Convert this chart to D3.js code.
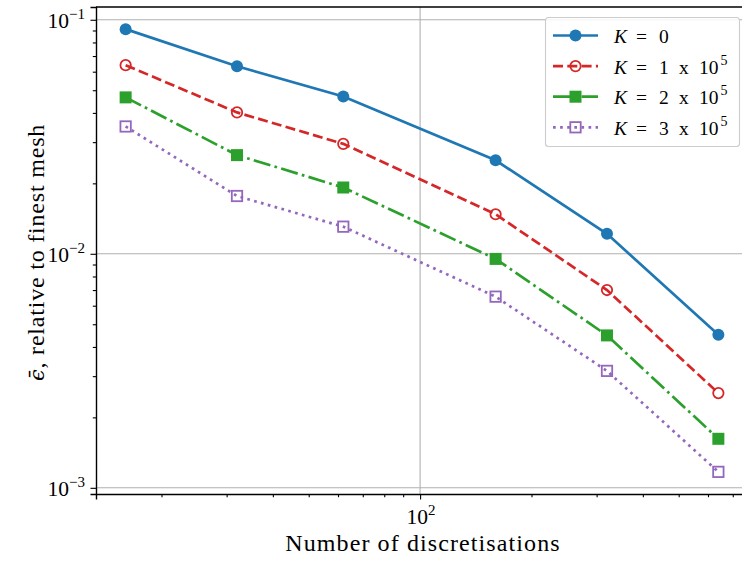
<!DOCTYPE html>
<html>
<head>
<meta charset="utf-8">
<script src="https://cdn.jsdelivr.net/npm/d3@7"></script>
<style>
  html, body { margin: 0; padding: 0; background: #fff; }
  svg { display: block; }
  text { font-family: "Liberation Serif", "DejaVu Serif", serif; fill: #000; }
</style>
</head>
<body>
<svg id="chart" width="742" height="563"></svg>
<script>
// Mesh sizes (number of discretisations)
const discretisations = [16, 32, 62, 160, 320, 640];

// Mean error relative to the finest mesh, one series per stiffness K
const errK0 = [0.0912, 0.0633, 0.0470, 0.0251, 0.01217, 0.00451];
const errK1 = [0.0640, 0.0402, 0.0295, 0.01476, 0.00700, 0.00254];
const errK2 = [0.0466, 0.0264, 0.0192, 0.00951, 0.00448, 0.00162];
const errK3 = [0.0350, 0.01766, 0.01306, 0.00656, 0.00316, 0.00117];

const seriesNames = ["K0", "K1", "K2", "K3"];
const legendValue = ["0", "1", "2", "3"];
const legendExponent = ["", "5", "5", "5"];

const xTickValues = [100];
const yTickValues = [1e-3, 1e-2, 1e-1];

const LW = 2.7;
const series = [
  { name: seriesNames[0], values: errK0, color: "#1f77b4", dash: null, marker: "circle", fill: true },
  { name: seriesNames[1], values: errK1, color: "#d62728", dash: "10,4.3", marker: "circle", fill: false },
  { name: seriesNames[2], values: errK2, color: "#2ca02c", dash: "17.3,4.3,2.7,4.3", marker: "square", fill: true },
  { name: seriesNames[3], values: errK3, color: "#9467bd", dash: "2.7,4.4", marker: "square", fill: false }
];

const svg = d3.select("#chart");
const M = { left: 96, right: 748, top: 7, bottom: 494 };

// log-space padding of 5% on each side
function padLog(lo, hi) {
  const a = Math.log10(lo), b = Math.log10(hi), p = (b - a) * 0.05;
  return [Math.pow(10, a - p), Math.pow(10, b + p)];
}
const allY = [].concat(errK0, errK1, errK2, errK3);
const x = d3.scaleLog().domain(padLog(d3.min(discretisations), d3.max(discretisations))).range([M.left, M.right]);
const y = d3.scaleLog().domain(padLog(d3.min(allY), d3.max(allY))).range([M.bottom, M.top]);

// grid at major ticks
const grid = svg.append("g");
xTickValues.forEach(v => grid.append("line")
  .attr("x1", x(v)).attr("x2", x(v)).attr("y1", M.top).attr("y2", M.bottom)
  .attr("stroke", "#b0b0b0").attr("stroke-width", 1.1));
yTickValues.forEach(v => grid.append("line")
  .attr("x1", M.left).attr("x2", M.right).attr("y1", y(v)).attr("y2", y(v))
  .attr("stroke", "#b0b0b0").attr("stroke-width", 1.1));

// minor ticks (2..9 x 10^k) within the domain
function minorTicks(scale) {
  const [lo, hi] = scale.domain();
  const out = [];
  for (let k = Math.floor(Math.log10(lo)); k <= Math.ceil(Math.log10(hi)); k++) {
    for (let m = 2; m <= 9; m++) {
      const v = m * Math.pow(10, k);
      if (v >= lo && v <= hi) out.push(v);
    }
  }
  return out;
}

// axes
const xAxis = d3.axisBottom(x).tickValues(xTickValues).tickSize(5.5).tickFormat("");
svg.append("g").attr("transform", `translate(0,${M.bottom})`).call(xAxis);
const xMinor = d3.axisBottom(x).tickValues(minorTicks(x)).tickSize(3.2).tickFormat("");
svg.append("g").attr("transform", `translate(0,${M.bottom})`).call(xMinor).select(".domain").remove();

const yAxis = d3.axisLeft(y).tickValues(yTickValues).tickSize(5.5).tickFormat("");
svg.append("g").attr("transform", `translate(${M.left},0)`).call(yAxis);
const yMinor = d3.axisLeft(y).tickValues(minorTicks(y)).tickSize(3.2).tickFormat("");
svg.append("g").attr("transform", `translate(${M.left},0)`).call(yMinor).select(".domain").remove();

svg.selectAll(".domain").attr("stroke", "#000").attr("stroke-width", 1.4);
svg.selectAll(".tick line").attr("stroke", "#000").attr("stroke-width", 1.1);

// top spine
svg.append("line").attr("x1", M.left).attr("x2", M.right).attr("y1", M.top).attr("y2", M.top)
  .attr("stroke", "#000").attr("stroke-width", 1.4);

// power-of-ten labels
function powLabel(g, v, px, py, anchor) {
  const t = g.append("text").attr("x", px).attr("y", py).attr("text-anchor", anchor).attr("font-size", 21.5);
  t.append("tspan").text("10");
  t.append("tspan").attr("dy", -9).attr("font-size", 15)
    .text(String(Math.round(Math.log10(v))).replace("-", "\u2212"));
}
xTickValues.forEach(v => powLabel(svg, v, x(v) + 1, M.bottom + 30, "middle"));
yTickValues.forEach(v => powLabel(svg, v, M.left - 11, y(v) + 8, "end"));

// axis titles
svg.append("text").attr("x", 423).attr("y", 551)
  .attr("text-anchor", "middle").attr("font-size", 24).attr("letter-spacing", 1.1)
  .text("Number of discretisations");

const yl = svg.append("text").attr("transform", `translate(44,${(M.top + M.bottom) / 2 + 2}) rotate(-90)`)
  .attr("text-anchor", "middle").attr("font-size", 24).attr("letter-spacing", 0.8);
yl.append("tspan").attr("font-family", "DejaVu Serif").attr("font-style", "italic").attr("font-size", 21).text("\u03F5\u0304");
yl.append("tspan").text(", relative to finest mesh");

// series lines and markers
const line = d3.line().x((d, i) => x(discretisations[i])).y(d => y(d));

function drawMarker(g, m, cx, cy, color, fill) {
  if (m === "circle") {
    if (fill) g.append("circle").attr("cx", cx).attr("cy", cy).attr("r", 6).attr("fill", color);
    else g.append("circle").attr("cx", cx).attr("cy", cy).attr("r", 5.2)
      .attr("fill", "none").attr("stroke", color).attr("stroke-width", 1.8);
  } else {
    if (fill) g.append("rect").attr("x", cx - 6).attr("y", cy - 6).attr("width", 12).attr("height", 12).attr("fill", color);
    else g.append("rect").attr("x", cx - 5.2).attr("y", cy - 5.2).attr("width", 10.4).attr("height", 10.4)
      .attr("fill", "none").attr("stroke", color).attr("stroke-width", 1.8);
  }
}

const plot = svg.append("g");
series.forEach(s => {
  const g = plot.append("g");
  g.append("path").datum(s.values).attr("d", line)
    .attr("fill", "none").attr("stroke", s.color).attr("stroke-width", LW)
    .attr("stroke-dasharray", s.dash);
  s.values.forEach((v, i) => drawMarker(g, s.marker, x(discretisations[i]), y(v), s.color, s.fill));
});

// legend
const lg = svg.append("g");
lg.append("rect").attr("x", 545.5).attr("y", 17.5).attr("width", 194).attr("height", 129)
  .attr("rx", 3).attr("fill", "#fff").attr("fill-opacity", 0.85).attr("stroke", "#cccccc").attr("stroke-width", 1.1);
series.forEach((s, i) => {
  const cy = 35.5 + i * 30.6;
  lg.append("line").attr("x1", 553).attr("x2", 598).attr("y1", cy).attr("y2", cy)
    .attr("stroke", s.color).attr("stroke-width", LW).attr("stroke-dasharray", s.dash);
  drawMarker(lg, s.marker, 575.5, cy, s.color, s.fill);
  const by = cy + 7.5;
  const t = lg.append("text").attr("y", by).attr("font-size", 19.5);
  t.append("tspan").attr("x", 614).attr("font-style", "italic").text("K");
  t.append("tspan").attr("x", 636).text("=");
  t.append("tspan").attr("x", 659).text(legendValue[i]);
  if (legendExponent[i]) {
    t.append("tspan").attr("x", 679).text("x");
    t.append("tspan").attr("x", 699).text("10");
    t.append("tspan").attr("x", 720.5).attr("y", by - 9).attr("font-size", 14).text(legendExponent[i]);
  }
});
</script>
</body>
</html>
